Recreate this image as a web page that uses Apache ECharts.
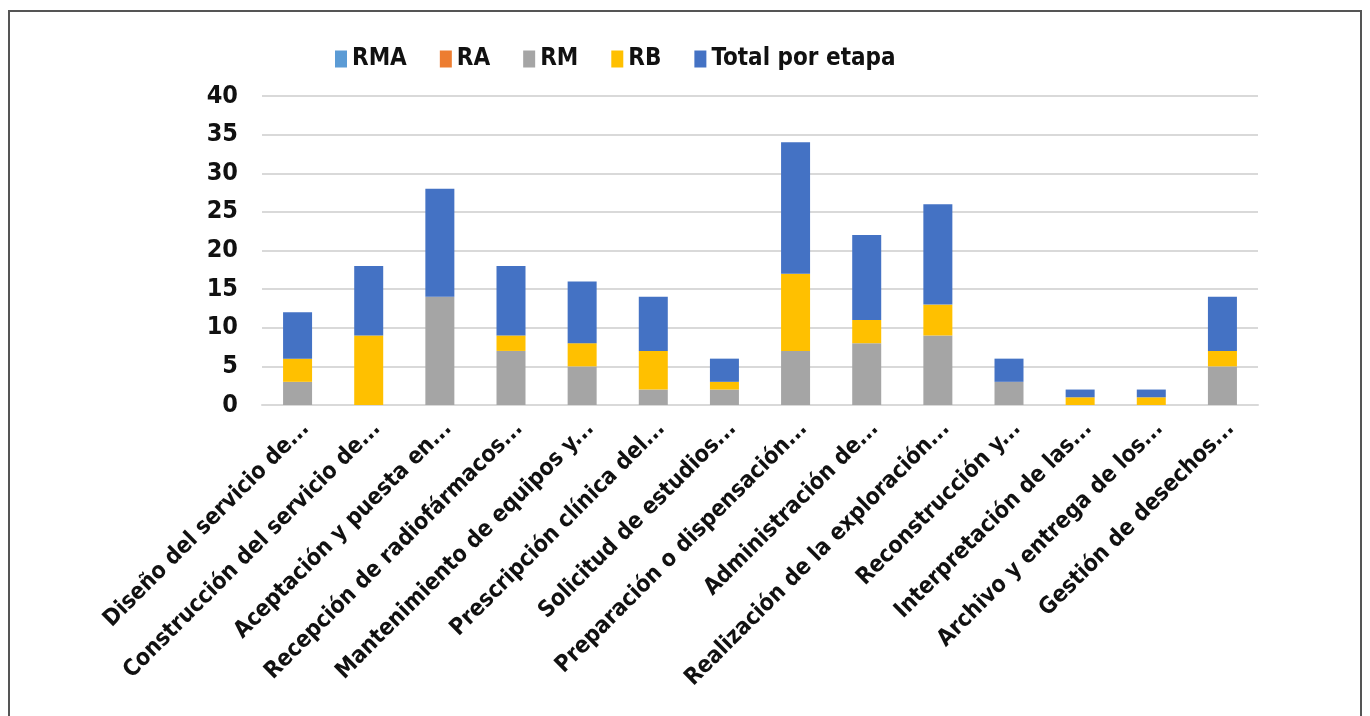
<!DOCTYPE html>
<html>
<head>
<meta charset="utf-8">
<script src="https://cdn.jsdelivr.net/npm/echarts@6/dist/echarts.min.js"></script>
<style>
  html, body { margin: 0; padding: 0; background: #fff; }
  #frame {
    position: absolute; left: 8px; top: 10px; width: 1350px; height: 720px;
    border: 2px solid #555; border-bottom: none;
  }
  #chart { position: absolute; left: 0; top: 0; width: 1370px; height: 716px; }
</style>
</head>
<body>
<div id="frame"></div>
<div id="chart"></div>
<script>
const categories = [
  'Diseño del servicio de...',
  'Construcción del servicio de...',
  'Aceptación y puesta en...',
  'Recepción de radiofármacos...',
  'Mantenimiento de equipos y...',
  'Prescripción clínica del...',
  'Solicitud de estudios...',
  'Preparación o dispensación...',
  'Administración de...',
  'Realización de la exploración...',
  'Reconstrucción y...',
  'Interpretación de las...',
  'Archivo y entrega de los...',
  'Gestión de desechos...'
]
const rmaValues = [0, 0, 0, 0, 0, 0, 0, 0, 0, 0, 0, 0, 0, 0]
const raValues = [0, 0, 0, 0, 0, 0, 0, 0, 0, 0, 0, 0, 0, 0]
const rmValues = [3, 0, 14, 7, 5, 2, 2, 7, 8, 9, 3, 0, 0, 5]
const rbValues = [3, 9, 0, 2, 3, 5, 1, 10, 3, 4, 0, 1, 1, 2]
const totalValues = [6, 9, 14, 9, 8, 7, 3, 17, 11, 13, 3, 1, 1, 7]

const font = "'Liberation Sans Narrow', 'DejaVu Sans Condensed', sans-serif"
const gridColor = '#d9d9d9'

// same look for every stacked series
function barSeries(name, data, color) {
  return {
    name: name,
    type: 'bar',
    stack: 'total',
    barWidth: 29,
    data: data,
    itemStyle: { color: color }
  }
}

const chart = echarts.init(document.getElementById('chart'))

const options = {
  backgroundColor: 'transparent',
  animation: false,
  legend: {
    top: 42,
    left: 330,
    icon: 'rect',
    itemWidth: 12,
    itemHeight: 17,
    itemGap: 33,
    textStyle: {
      fontFamily: font,
      fontWeight: 'bold',
      fontSize: 24,
      color: '#111'
    },
    data: ['RMA', 'RA', 'RM', 'RB', 'Total por etapa']
  },
  grid: {
    top: 96,
    left: 262,
    right: 112,
    bottom: 311,
    outerBoundsMode: 'none'
  },
  xAxis: {
    type: 'category',
    data: categories,
    axisTick: { show: false },
    axisLine: {
      lineStyle: { color: gridColor, width: 2 }
    },
    axisLabel: {
      interval: 0,
      rotate: 45,
      margin: 12,
      verticalAlign: 'top',
      fontFamily: font,
      fontWeight: 'bold',
      fontSize: 23,
      color: '#111'
    }
  },
  yAxis: {
    type: 'value',
    min: 0,
    max: 40,
    interval: 5,
    axisLine: { show: false },
    axisTick: { show: false },
    axisLabel: {
      margin: 24,
      fontFamily: font,
      fontWeight: 'bold',
      fontSize: 25,
      color: '#111'
    },
    splitLine: {
      lineStyle: { color: gridColor, width: 2 }
    }
  },
  series: [
    barSeries('RMA', rmaValues, '#5B9BD5'),
    barSeries('RA', raValues, '#ED7D31'),
    barSeries('RM', rmValues, '#A5A5A5'),
    barSeries('RB', rbValues, '#FFC000'),
    barSeries('Total por etapa', totalValues, '#4472C4')
  ]
}

chart.setOption(options)
</script>
</body>
</html>
